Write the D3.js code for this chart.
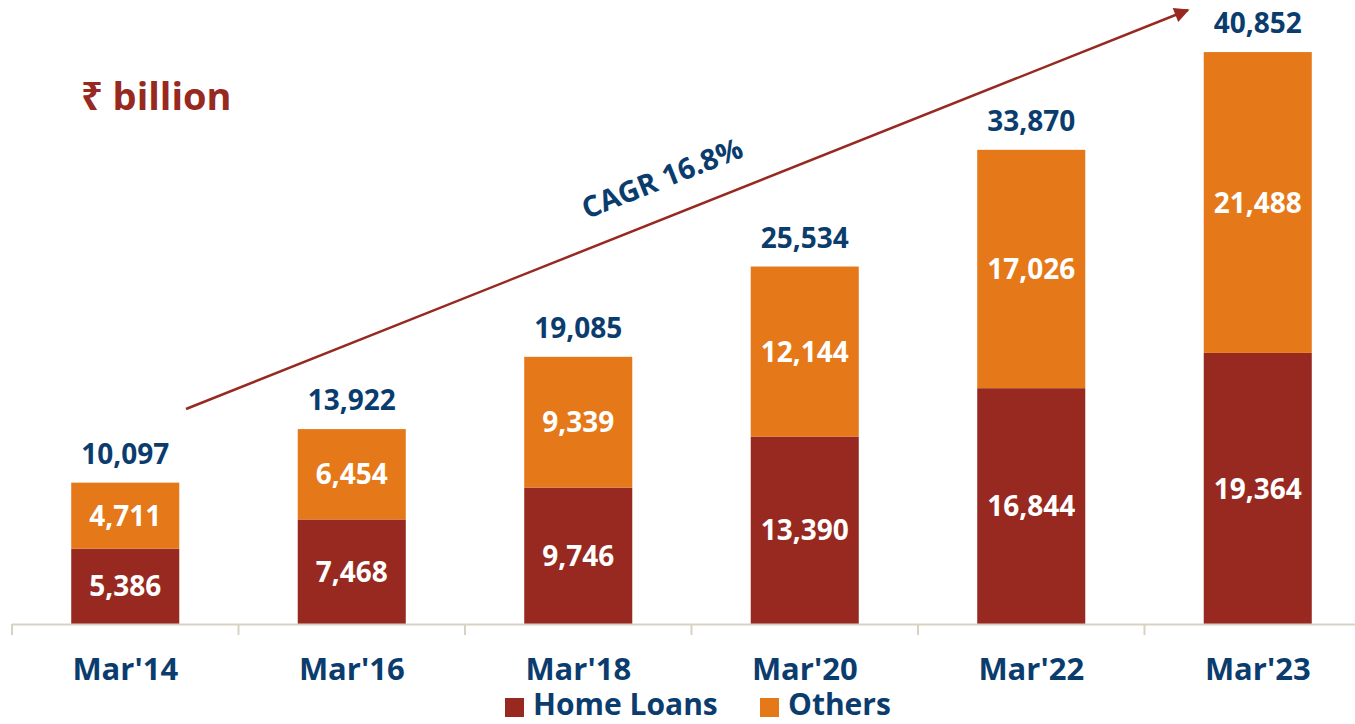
<!DOCTYPE html>
<html>
<head>
<meta charset="utf-8">
<script src="https://cdn.jsdelivr.net/npm/d3@7"></script>
<style>
  html, body { margin: 0; padding: 0; background: #fff; }
  svg { display: block; font-family: "Open Sans", "Noto Sans", sans-serif; }
</style>
</head>
<body>
<svg id="chart" width="1355" height="724"></svg>
<script>
// Housing credit outstanding, ₹ billion
const categories = ["Mar'14", "Mar'16", "Mar'18", "Mar'20", "Mar'22", "Mar'23"];
const homeLoans  = [5386, 7468, 9746, 13390, 16844, 19364];
const others     = [4711, 6454, 9339, 12144, 17026, 21488];
const totals     = [10097, 13922, 19085, 25534, 33870, 40852];
const seriesNames = ["Home Loans", "Others"];
const cagrLabel = "CAGR 16.8%";

const colors = { "Home Loans": "#972920", "Others": "#e57818" };
const navy = "#0b3c6e";
const axisColor = "#d7d3c1";

const W = 1355, H = 724;
const svg = d3.select("#chart");

const rows = categories.map((c, i) => ({ cat: c, "Home Loans": homeLoans[i], "Others": others[i], total: totals[i] }));
const stacked = d3.stack().keys(seriesNames)(rows);

const x = d3.scaleBand()
  .domain(categories)
  .range([12, 1371])
  .paddingInner(0.523)
  .paddingOuter(0.2615);

const y = d3.scaleLinear()
  .domain([0, 42000])
  .range([624, 36]);

const fmt = d3.format(",");

// Stacked bars
const layers = svg.append("g").selectAll("g")
  .data(stacked)
  .join("g")
  .attr("fill", d => colors[d.key]);

layers.selectAll("rect")
  .data(d => d.map(v => ({ key: d.key, v })))
  .join("rect")
  .attr("x", d => x(d.v.data.cat))
  .attr("width", x.bandwidth())
  .attr("y", d => y(d.v[1]))
  .attr("height", d => y(d.v[0]) - y(d.v[1]));

// Segment value labels
layers.selectAll("text")
  .data(d => d.map(v => ({ key: d.key, v })))
  .join("text")
  .attr("x", d => x(d.v.data.cat) + x.bandwidth() / 2)
  .attr("y", d => (y(d.v[0]) + y(d.v[1])) / 2)
  .attr("dy", "0.36em")
  .attr("text-anchor", "middle")
  .attr("fill", "#fff")
  .attr("font-weight", 700)
  .attr("font-size", 28)
  .text(d => fmt(d.v.data[d.key]));

// Totals above bars
svg.append("g").selectAll("text")
  .data(rows)
  .join("text")
  .attr("x", d => x(d.cat) + x.bandwidth() / 2)
  .attr("y", d => y(d.total) - 19)
  .attr("text-anchor", "middle")
  .attr("fill", navy)
  .attr("font-weight", 700)
  .attr("font-size", 28)
  .text(d => fmt(d.total));

// Category axis: baseline with ticks at band boundaries
const axisG = svg.append("g");
const r0 = x.range()[0];
axisG.append("line")
  .attr("x1", r0).attr("x2", W)
  .attr("y1", y(0) + 0.5).attr("y2", y(0) + 0.5)
  .attr("stroke", axisColor).attr("stroke-width", 2);
axisG.selectAll("line.tick")
  .data(d3.range(categories.length + 1))
  .join("line")
  .attr("class", "tick")
  .attr("x1", i => r0 + i * x.step())
  .attr("x2", i => r0 + i * x.step())
  .attr("y1", y(0)).attr("y2", y(0) + 11)
  .attr("stroke", axisColor).attr("stroke-width", 2);
axisG.selectAll("text")
  .data(categories)
  .join("text")
  .attr("x", d => x(d) + x.bandwidth() / 2)
  .attr("y", 680)
  .attr("text-anchor", "middle")
  .attr("fill", navy)
  .attr("font-weight", 700)
  .attr("font-size", 31)
  .text(d => d);

// Unit title
svg.append("text")
  .attr("x", 81).attr("y", 110)
  .attr("fill", "#972920")
  .attr("font-weight", 700)
  .attr("font-size", 38)
  .text("₹ billion");

// Growth arrow with CAGR annotation
const defs = svg.append("defs");
defs.append("marker")
  .attr("id", "arrowHead")
  .attr("viewBox", "0 0 10 10")
  .attr("refX", 9).attr("refY", 5)
  .attr("markerWidth", 7).attr("markerHeight", 6)
  .attr("markerUnits", "strokeWidth")
  .attr("orient", "auto")
  .append("path")
  .attr("d", "M0,0 L10,5 L0,10 Z")
  .attr("fill", "#972920");

svg.append("line")
  .attr("x1", 186).attr("y1", 409)
  .attr("x2", 1188).attr("y2", 10)
  .attr("stroke", "#972920")
  .attr("stroke-width", 2.5)
  .attr("marker-end", "url(#arrowHead)");

svg.append("text")
  .attr("transform", "translate(662,178) rotate(-21.7)")
  .attr("dy", "0.36em")
  .attr("text-anchor", "middle")
  .attr("fill", navy)
  .attr("font-weight", 700)
  .attr("font-size", 29)
  .text(cagrLabel);

// Legend
const legend = svg.append("g");
const legendItems = [
  { name: seriesNames[0], sx: 505, tx: 533 },
  { name: seriesNames[1], sx: 760, tx: 788 }
];
legend.selectAll("rect")
  .data(legendItems)
  .join("rect")
  .attr("x", d => d.sx).attr("y", 698)
  .attr("width", 19).attr("height", 19)
  .attr("fill", d => colors[d.name]);
legend.selectAll("text")
  .data(legendItems)
  .join("text")
  .attr("x", d => d.tx).attr("y", 715)
  .attr("fill", navy)
  .attr("font-weight", 700)
  .attr("font-size", 30)
  .text(d => d.name);
</script>
</body>
</html>
